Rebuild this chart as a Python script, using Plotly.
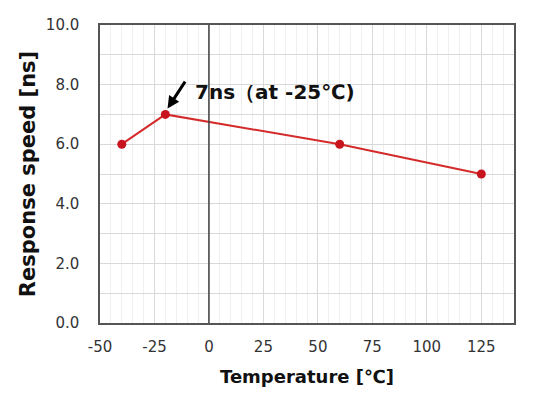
import plotly.graph_objects as go

temperature = [-40, -20, 60, 125]
response_ns = [6.0, 7.0, 6.0, 5.0]
x_ticks = [-50, -25, 0, 25, 50, 75, 100, 125]
y_ticks = [0, 2, 4, 6, 8, 10]

fig = go.Figure()
fig.add_trace(go.Scatter(
    x=temperature, y=response_ns, mode="lines+markers",
    line=dict(color="#d42a2a", width=2),
    marker=dict(color="#c8141e", size=9),
    showlegend=False,
))

fig.add_vline(x=0, line=dict(color="#404040", width=1.5), layer="above")

fig.add_annotation(
    x=-19, y=7.2, ax=-10.5, ay=8.15, xref="x", yref="y", axref="x", ayref="y",
    showarrow=True, arrowhead=2, arrowsize=0.8, arrowwidth=3, arrowcolor="#000000",
    text="",
)
fig.add_annotation(
    x=-7.5, y=7.75, xref="x", yref="y", xanchor="left", yanchor="middle",
    showarrow=False, text="<b>7ns（at -25℃)</b>",
    font=dict(family="DejaVu Sans", size=20, color="#111111"),
)

fig.update_layout(
    width=537, height=388,
    margin=dict(l=92, r=31, t=17, b=73),
    paper_bgcolor="white", plot_bgcolor="white",
    font=dict(family="DejaVu Sans", color="#333333"),
)
fig.update_xaxes(
    range=[-50, 140], tickvals=x_ticks, ticktext=[str(v) for v in x_ticks],
    showgrid=True, gridcolor="#d9d9d9", gridwidth=1,
    minor=dict(dtick=5, showgrid=True, gridcolor="#efefef", gridwidth=1),
    showline=True, linecolor="#555555", linewidth=1.5, mirror=True,
    zeroline=False, ticks="", ticklabelstandoff=9, automargin=False,
    tickfont=dict(size=15, color="#333333"),
    title=dict(text="<b>Temperature [℃]</b>", font=dict(size=18, color="#111111"), standoff=16),
)
fig.update_yaxes(
    range=[0, 10], tickvals=y_ticks, ticktext=[f"{v:.1f}" for v in y_ticks],
    showgrid=True, gridcolor="#d9d9d9", gridwidth=1,
    minor=dict(dtick=1, showgrid=True, gridcolor="#d9d9d9", gridwidth=1),
    showline=True, linecolor="#555555", linewidth=1.5, mirror=True,
    zeroline=False, ticks="", ticklabelstandoff=16, automargin=False,
    tickfont=dict(size=15, color="#333333"),
    title=dict(text="<b>Response speed [ns]</b>", font=dict(size=21, color="#111111"), standoff=4),
)

fig.write_html("out.html")
